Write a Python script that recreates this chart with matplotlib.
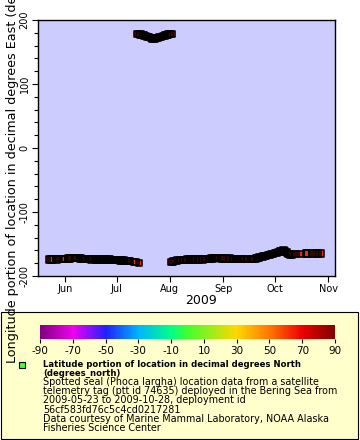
import matplotlib
matplotlib.use("Agg")
from matplotlib import pyplot as plt
from matplotlib.colors import LinearSegmentedColormap, Normalize
from matplotlib.cm import ScalarMappable
from matplotlib.patches import Rectangle
from matplotlib.lines import Line2D
from matplotlib.ticker import MultipleLocator
import matplotlib.dates as mdates
import pandas as pd

plt.rcParams["axes.unicode_minus"] = False

# track west of the dateline, first part
dates_a = ["2009-05-23", "2009-05-24", "2009-05-25", "2009-05-27", "2009-05-28",
           "2009-05-30", "2009-05-31", "2009-06-01", "2009-06-03", "2009-06-04",
           "2009-06-06", "2009-06-07", "2009-06-08", "2009-06-09", "2009-06-10",
           "2009-06-11", "2009-06-12", "2009-06-13", "2009-06-15", "2009-06-16",
           "2009-06-17", "2009-06-18", "2009-06-19", "2009-06-20", "2009-06-21",
           "2009-06-22", "2009-06-23", "2009-06-24", "2009-06-25", "2009-06-26",
           "2009-06-27", "2009-06-28", "2009-06-29", "2009-06-30", "2009-07-01",
           "2009-07-02", "2009-07-03", "2009-07-04", "2009-07-05", "2009-07-06",
           "2009-07-07", "2009-07-08", "2009-07-09", "2009-07-11", "2009-07-12",
           "2009-07-14"]
lon_a = [-174.5, -174.5, -174.3, -174.0, -173.8,
         -173.5, -173.2, -173.0, -172.7, -172.5,
         -172.0, -171.8, -171.9, -172.2, -172.6,
         -173.2, -173.6, -173.9, -173.9, -174.0,
         -173.8, -173.9, -174.0, -174.1, -174.0,
         -174.1, -174.2, -174.2, -174.3, -174.4,
         -174.4, -174.6, -174.7, -174.9, -175.0,
         -175.2, -175.5, -175.8, -176.0, -176.3,
         -176.5, -176.8, -177.0, -178.0, -178.6,
         -179.3]

# short stay east of the dateline
dates_b = ["2009-07-13", "2009-07-14", "2009-07-15", "2009-07-16", "2009-07-17",
           "2009-07-18", "2009-07-19", "2009-07-20", "2009-07-21", "2009-07-22",
           "2009-07-23", "2009-07-24", "2009-07-25", "2009-07-26", "2009-07-27",
           "2009-07-28", "2009-07-29", "2009-07-30", "2009-07-31", "2009-08-01",
           "2009-08-02"]
lon_b = [178.3, 177.8, 177.1, 176.3, 175.5,
         174.6, 173.8, 173.0, 172.2, 171.3,
         171.0, 171.4, 172.2, 173.0, 173.9,
         174.8, 175.7, 176.5, 177.2, 177.9,
         178.4]

# back west of the dateline until the end of the deployment
dates_c = ["2009-08-02", "2009-08-03", "2009-08-04", "2009-08-05", "2009-08-07",
           "2009-08-09", "2009-08-10", "2009-08-11", "2009-08-12", "2009-08-13",
           "2009-08-14", "2009-08-15", "2009-08-16", "2009-08-18", "2009-08-20",
           "2009-08-21", "2009-08-22", "2009-08-23", "2009-08-24", "2009-08-25",
           "2009-08-26", "2009-08-27", "2009-08-28", "2009-08-29", "2009-08-31",
           "2009-09-01", "2009-09-03", "2009-09-05", "2009-09-06", "2009-09-07",
           "2009-09-08", "2009-09-09", "2009-09-10", "2009-09-11", "2009-09-12",
           "2009-09-13", "2009-09-15", "2009-09-17", "2009-09-18", "2009-09-19",
           "2009-09-20", "2009-09-21", "2009-09-22", "2009-09-23", "2009-09-24",
           "2009-09-25", "2009-09-26", "2009-09-27", "2009-09-28", "2009-09-29",
           "2009-09-30", "2009-10-01", "2009-10-02", "2009-10-03", "2009-10-04",
           "2009-10-05", "2009-10-06", "2009-10-07", "2009-10-08", "2009-10-09",
           "2009-10-10", "2009-10-11", "2009-10-13", "2009-10-16", "2009-10-19",
           "2009-10-20", "2009-10-23", "2009-10-25", "2009-10-26", "2009-10-28"]
lon_c = [-178.6, -177.5, -176.6, -175.8, -175.0,
         -174.8, -174.6, -174.5, -174.5, -174.4,
         -174.5, -174.5, -174.4, -174.2, -174.0,
         -173.8, -173.6, -173.4, -173.0, -172.8,
         -172.5, -172.3, -172.2, -172.3, -172.5,
         -172.6, -172.7, -172.9, -173.0, -173.2,
         -173.4, -173.5, -173.6, -173.7, -173.8,
         -173.9, -173.8, -173.6, -173.3, -173.0,
         -172.4, -171.9, -171.2, -170.5, -169.8,
         -169.0, -168.3, -167.6, -166.8, -166.0,
         -165.2, -164.5, -163.6, -162.6, -161.6,
         -160.6, -160.4, -161.6, -163.4, -165.2,
         -166.4, -166.6, -165.8, -165.2, -165.1,
         -165.1, -165.0, -165.1, -165.1, -165.0]

LAT = 63.0  # latitude (deg N) that gives the marker fill colour

PALETTE_STOPS = [-90, -70, -50, -30, -10, 0, 30, 50, 70, 90]
PALETTE_COLORS = ["#800080", "#f000f0", "#2020ff", "#00b4ff", "#00ff88",
                  "#40ff30", "#ffd800", "#ff7800", "#ee0000", "#800000"]
CBAR_TICKS = list(range(-90, 91, 20))

TITLE_LINES = ["Latitude portion of location in decimal degrees North",
               "(degrees_north)"]
INFO_LINES = ["Spotted seal (Phoca largha) location data from a satellite",
              "telemetry tag (ptt id 74635) deployed in the Bering Sea from",
              "2009-05-23 to 2009-10-28, deployment id",
              "56cf583fd76c5c4cd0217281",
              "Data courtesy of Marine Mammal Laboratory, NOAA Alaska",
              "Fisheries Science Center"]
YLABEL = "Longitude portion of location in decimal degrees East (degrees_east)"

W, H = 360.0, 440.0


def box(x0, y0, x1, y1):
    "Pixel box (top-left origin) to figure fraction rect."
    return [x0 / W, 1 - y1 / H, (x1 - x0) / W, (y1 - y0) / H]


lo, hi = PALETTE_STOPS[0], PALETTE_STOPS[-1]
cmap = LinearSegmentedColormap.from_list(
    "erddap_rainbow",
    [((v - lo) / (hi - lo), c) for v, c in zip(PALETTE_STOPS, PALETTE_COLORS)])
norm = Normalize(lo, hi)

fig = plt.figure(figsize=(3.6, 4.4), dpi=100)

ax = fig.add_axes(box(38, 20, 335, 276))
ax.set_facecolor("#ccccff")
segments = ((dates_a, lon_a), (dates_b, lon_b), (dates_c, lon_c))
# fills first, outlines after: dense stretches come out black, gaps show colour
for d, lon in segments:
    ax.scatter(pd.to_datetime(d), lon, c=[LAT] * len(lon), cmap=cmap, norm=norm,
               marker="s", s=21, linewidths=0, zorder=3)
for d, lon in segments:
    ax.scatter(pd.to_datetime(d), lon, marker="s", s=21, facecolors="none",
               edgecolors="black", linewidths=1.15, zorder=4)

ax.set_xlim(pd.Timestamp("2009-05-16 08:00"), pd.Timestamp("2009-11-05"))
ax.set_ylim(-200, 200)
ax.xaxis.set_major_locator(mdates.MonthLocator())
ax.xaxis.set_major_formatter(mdates.DateFormatter("%b"))
ax.yaxis.set_major_locator(MultipleLocator(100))
ax.yaxis.set_minor_locator(MultipleLocator(20))
ax.tick_params(direction="out", length=4, width=0.8, labelsize=7, pad=2)
ax.tick_params(which="minor", length=3, width=0.8)
for lbl in ax.get_yticklabels():
    lbl.set_rotation(90)
    lbl.set_va("center")
for s in ax.spines.values():
    s.set_linewidth(1)

fig.text(201 / W, 1 - 300 / H, "2009", ha="center", va="center", fontsize=9)
fig.text(12.5 / W, 1 - 363 / H, YLABEL, rotation=90, ha="center", va="bottom",
         fontsize=9.2)

# legend panel
fig.add_artist(Rectangle((1 / W, 1 - 439 / H), 357 / W, 127 / H,
                         transform=fig.transFigure, facecolor="#ffffcc",
                         edgecolor="black", linewidth=0.8, zorder=-1))
cax = fig.add_axes(box(40, 325, 335, 339))
cb = fig.colorbar(ScalarMappable(norm=norm, cmap=cmap), cax=cax,
                  orientation="horizontal", ticks=CBAR_TICKS)
cb.outline.set_visible(False)
cax.tick_params(labelsize=7.5, length=3, width=0.8, pad=2)

fig.add_artist(Line2D([22 / W], [1 - 365 / H], marker="s", markersize=5,
                      markerfacecolor="#40ff40", markeredgecolor="black",
                      markeredgewidth=0.8, transform=fig.transFigure))
y = 364
for line in TITLE_LINES:
    fig.text(43 / W, 1 - y / H, line, fontsize=6.15, fontweight="bold",
             ha="left", va="center")
    y += 9.1
for line in INFO_LINES:
    fig.text(43 / W, 1 - y / H, line, fontsize=6.9, ha="left", va="center")
    y += 9.1

fig.savefig("out.png", dpi=100)
